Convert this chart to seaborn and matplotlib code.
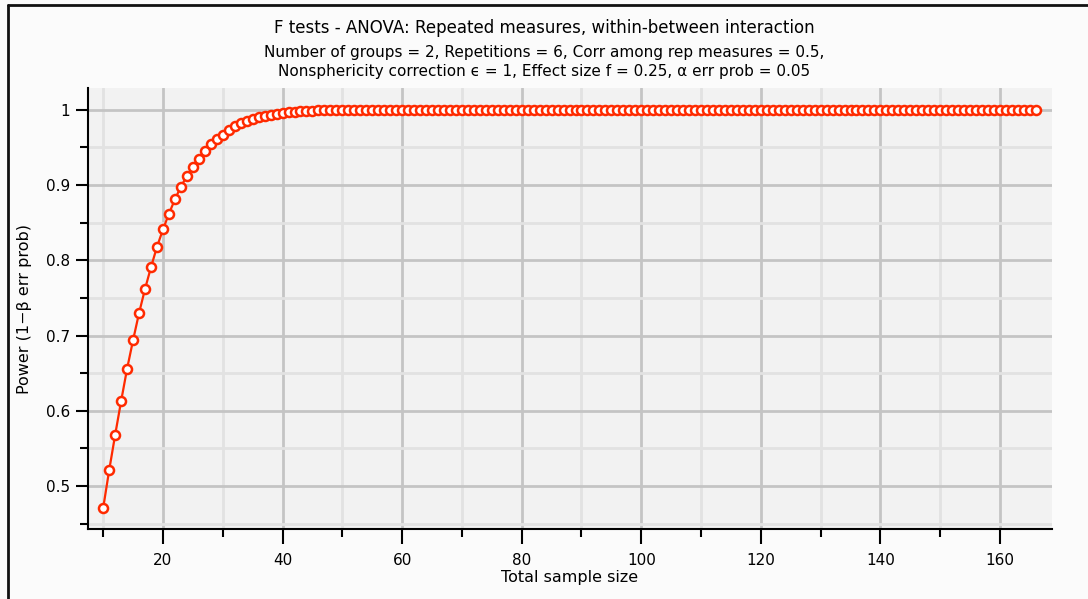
import numpy as np
import pandas as pd
import seaborn as sns
from matplotlib import pyplot as plt
from matplotlib.lines import Line2D
from matplotlib.ticker import MultipleLocator

# power values, n = 10 .. 55, then flat at 1 up to n = 166
power_head = [0.471, 0.521, 0.568, 0.613, 0.656, 0.694, 0.730, 0.762, 0.791, 0.818,
              0.841, 0.862, 0.881, 0.898, 0.912, 0.924, 0.935, 0.945, 0.954, 0.961,
              0.967, 0.973, 0.978, 0.982, 0.985, 0.988, 0.990, 0.992, 0.993, 0.995,
              0.996, 0.997, 0.9975, 0.998, 0.9985, 0.999, 0.9992, 0.9994, 0.9995, 0.9996,
              0.9997, 0.9998, 0.9998, 0.9999, 0.9999, 0.9999]
power_tail = [1.0] * 111
sample_size = list(range(10, 167))
power = power_head + power_tail

title = "F tests - ANOVA: Repeated measures, within-between interaction"
subtitle = ("Number of groups = 2, Repetitions = 6, Corr among rep measures = 0.5,\n"
            "Nonsphericity correction \u03f5 = 1, Effect size f = 0.25, \u03b1 err prob = 0.05")

df = pd.DataFrame({"n": sample_size, "power": power})

sns.set_style("white")
plt.rcParams["font.family"] = ["DejaVu Sans"]
plt.rcParams["text.color"] = "black"
plt.rcParams["axes.labelcolor"] = "black"
plt.rcParams["xtick.color"] = "black"
plt.rcParams["ytick.color"] = "black"

fig = plt.figure(figsize=(10.88, 5.99), dpi=100, facecolor="#fbfbfb")
ax = fig.add_axes([88 / 1088, 1 - 529 / 599, (1052 - 88) / 1088, (529 - 88) / 599])
ax.set_facecolor("#f2f2f2")

sns.lineplot(data=df, x="n", y="power", ax=ax, color="#ff2a00", linewidth=1.6,
             marker="o", markersize=6.5, markerfacecolor="white",
             markeredgecolor="#ff2a00", markeredgewidth=1.8, zorder=3)

ax.set_xlim(7.46, 168.7)
ax.set_ylim(0.443, 1.029)
ax.xaxis.set_major_locator(MultipleLocator(20))
ax.xaxis.set_minor_locator(MultipleLocator(10))
ax.yaxis.set_major_locator(MultipleLocator(0.1))
ax.yaxis.set_minor_locator(MultipleLocator(0.05))
ax.set_yticks([0.5, 0.6, 0.7, 0.8, 0.9, 1.0])
ax.set_yticklabels(["0.5", "0.6", "0.7", "0.8", "0.9", "1"])

ax.grid(which="major", color="#c4c4c4", linewidth=2)
ax.grid(which="minor", color="#e2e2e2", linewidth=2)
ax.set_axisbelow(True)

for side in ["top", "right"]:
    ax.spines[side].set_visible(False)
for side in ["left", "bottom"]:
    ax.spines[side].set_color("black")
    ax.spines[side].set_linewidth(1.5)

ax.tick_params(axis="x", which="major", length=11, width=1.5, direction="out",
               labelsize=11, pad=6, bottom=True)
ax.tick_params(axis="x", which="minor", length=6, width=1.5, direction="out", bottom=True)
ax.tick_params(axis="y", which="major", length=9, width=1.5, direction="out",
               labelsize=11, pad=4, left=True)
ax.tick_params(axis="y", which="minor", length=6, width=1.5, direction="out", left=True)

ax.set_xlabel("Total sample size", fontsize=11.5, labelpad=2)
ax.set_ylabel("Power (1\u2212\u03b2 err prob)", fontsize=11.5, labelpad=10)

fig.text(0.5, 1 - 28 / 599, title, ha="center", va="center", fontsize=12)
fig.text(0.5, 1 - 62 / 599, subtitle, ha="center", va="center", fontsize=11,
         linespacing=1.35)

# outer frame (top and left edges)
fig.add_artist(Line2D([8 / 1088, 8 / 1088], [0, 1 - 5 / 599], transform=fig.transFigure,
                      color="#111111", linewidth=2))
fig.add_artist(Line2D([8 / 1088, 1], [1 - 5 / 599, 1 - 5 / 599], transform=fig.transFigure,
                      color="#111111", linewidth=2))

plt.savefig("out.png", dpi=100, facecolor=fig.get_facecolor())
